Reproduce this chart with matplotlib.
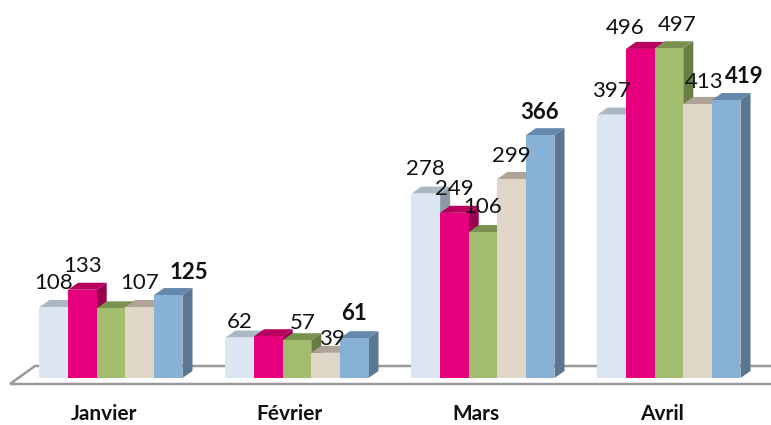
import matplotlib
matplotlib.use('Agg')
import matplotlib.pyplot as plt
from matplotlib.patches import Polygon

plt.rcParams['font.family'] = ['Lato', 'DejaVu Sans']

mois = ['Janvier', 'Février', 'Mars', 'Avril']

# heights of the bars, one list per series
serie1 = [107, 61, 278, 397]
serie2 = [133, 63, 249, 496]
serie3 = [105, 57, 220, 497]
serie4 = [107, 38, 300, 413]
serie5 = [125, 60, 366, 419]
series = [serie1, serie2, serie3, serie4, serie5]

# printed labels do not always match the bars in the original
labels1 = ['108', '62', '278', '397']
labels2 = ['133', '', '249', '496']
labels3 = ['', '57', '106', '497']
labels4 = ['107', '39', '299', '413']
labels5 = ['125', '61', '366', '419']
labels = [labels1, labels2, labels3, labels4, labels5]

# label nudges in pixels, from the bar top
nudge_x = [[0, 0, 0, 0], [0, 0, 0, -15], [0, 6, 0, 8], [0, 6, 0, 6], [21, 0, -1, 18]]
nudge_y = [[24, 16, 25, 24], [24, 0, 24, 21], [0, 17, 25, 23], [24, 14, 23, 22], [23, 25, 23, 23]]

face = ['#DCE6F2', '#E6007E', '#A2BD6E', '#E0D7C8', '#88B1D6']
top = ['#AAB8C4', '#B8005F', '#7A9150', '#ADA397', '#6688AD']
side = ['#8E9AA5', '#99004F', '#687C44', '#8F877C', '#5A7690']

W, H = 771, 425
px_x = 186.0   # pixels per month
px_y = 0.6635  # pixels per unit
w = 28.6 / px_x
dx = 10 / px_x
dy = 7 / px_y

fig = plt.figure(figsize=(W / 100, H / 100), dpi=100)
ax = fig.add_axes([0, 0, 1, 1])
ax.set_xlim(-111 / px_x, (W - 111) / px_x)
ax.set_ylim(-(H - 378) / px_y, 378 / px_y)
ax.axis('off')

# floor, open on the right
fy1 = -6 / px_y
fy2 = 12 / px_y
fx1 = -101 / px_x
fx2 = -76 / px_x
fx3 = (W - 111) / px_x
ax.plot([fx3, fx1, fx2, fx3], [fy1, fy1, fy2, fy2], color='#9A9A9A', linewidth=1.8, solid_joinstyle='miter')

for i in range(len(mois)):
    for j, s in enumerate(series):
        x = i + (j - 2) * w
        v = s[i]
        x0 = x - w / 2
        x1 = x + w / 2
        ax.add_patch(Polygon([(x1, 0), (x1 + dx, dy), (x1 + dx, v + dy), (x1, v)], facecolor=side[j], linewidth=0, zorder=3))
        ax.add_patch(Polygon([(x0, v), (x0 + dx, v + dy), (x1 + dx, v + dy), (x1, v)], facecolor=top[j], linewidth=0, zorder=3))
        ax.bar(x, v, width=w, color=face[j], linewidth=0, zorder=3)

for i in range(len(mois)):
    for j, s in enumerate(series):
        if labels[j][i] == '':
            continue
        x = i + (j - 2) * w
        ax.annotate(labels[j][i], (x, s[i]), xytext=(nudge_x[j][i], nudge_y[j][i]), textcoords='offset pixels',
                    ha='center', va='center', fontsize=16, color='#111111', zorder=5,
                    fontweight='bold' if j == 4 else 'normal')

for i, m in enumerate(mois):
    ax.text(i - 7 / px_x, -36 / px_y, m, ha='center', va='center', fontsize=15, fontweight='bold', color='#111111')

fig.savefig('out.png', dpi=100)
